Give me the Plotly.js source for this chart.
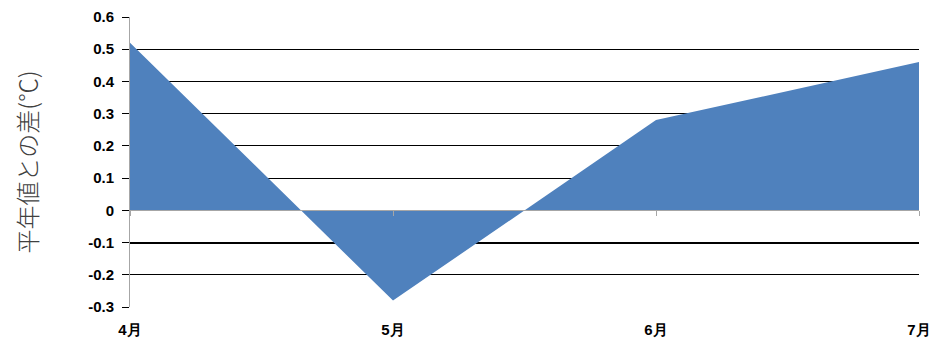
<!DOCTYPE html>
<html>
<head>
<meta charset="utf-8">
<script src="https://cdn.plot.ly/plotly-3.0.1.min.js"></script>
<style>html,body{margin:0;padding:0;background:#fff;}#chart{width:933px;height:342px;}</style>
</head>
<body>
<div id="chart"></div>
<script>
const months = ["4月", "5月", "6月", "7月"];
const diffValues = [0.52, -0.28, 0.28, 0.46];
const yTicks = [-0.3, -0.2, -0.1, 0, 0.1, 0.2, 0.3, 0.4, 0.5, 0.6];
const yTickText = ["-0.3", "-0.2", "-0.1", "0", "0.1", "0.2", "0.3", "0.4", "0.5", "0.6"];
const emphasisLine = [-0.1];

const xIdx = months.map((m, i) => i);
const yMin = yTicks[0], yMax = yTicks[yTicks.length - 1];

const traces = [
  {
    x: xIdx, y: diffValues, type: "scatter", mode: "none",
    hoverinfo: "skip", showlegend: false
  },
  {
    x: xIdx, y: diffValues, type: "scatter", mode: "lines",
    fill: "tozeroy", fillcolor: "#4F81BD",
    line: {width: 0, color: "#4F81BD"},
    xaxis: "x2", yaxis: "y2",
    hoverinfo: "skip", showlegend: false
  }
];

const layout = {
  width: 933, height: 342,
  margin: {l: 130, r: 14, t: 17, b: 35},
  paper_bgcolor: "#fff", plot_bgcolor: "#fff",
  font: {family: "Liberation Sans, Arial, sans-serif", color: "#000"},
  showlegend: false,
  xaxis: {
    range: [0, xIdx.length - 1], tickvals: xIdx, ticktext: months,
    showgrid: false, zeroline: false, showline: false, ticks: "",
    tickfont: {family: "Liberation Sans, Arial, sans-serif", size: 15, color: "#000", weight: "bold"},
    ticklabelstandoff: 12,
    fixedrange: true
  },
  yaxis: {
    range: [yMin, yMax], tickvals: yTicks, ticktext: yTickText,
    showgrid: true, gridcolor: "#000", gridwidth: 1,
    zeroline: false,
    showline: true, linecolor: "#A6A6A6", linewidth: 1,
    ticks: "outside", ticklen: 7, tickcolor: "#000", tickwidth: 1,
    ticklabelstandoff: 5,
    tickfont: {family: "Liberation Sans, Arial, sans-serif", size: 15, color: "#000", weight: "bold"},
    title: {text: "平年値との差(℃)", font: {family: "Noto Sans CJK JP", size: 24, color: "#404040", weight: 300}, standoff: 43},
    automargin: false,
    fixedrange: true
  },
  xaxis2: {
    overlaying: "x", anchor: "free", position: (0 - yMin) / (yMax - yMin),
    range: [0, xIdx.length - 1], tickvals: xIdx,
    showticklabels: false, showgrid: false, zeroline: false,
    showline: true, linecolor: "#A6A6A6", linewidth: 1,
    ticks: "outside", ticklen: 5, tickcolor: "#A6A6A6", tickwidth: 1,
    fixedrange: true
  },
  yaxis2: {
    overlaying: "y", range: [yMin, yMax], tickvals: emphasisLine,
    showticklabels: false, showgrid: true, gridcolor: "#000", gridwidth: 2,
    zeroline: false, showline: false, ticks: "",
    fixedrange: true
  }
};

Plotly.newPlot("chart", traces, layout, {displayModeBar: false, staticPlot: true});
</script>
</body>
</html>
